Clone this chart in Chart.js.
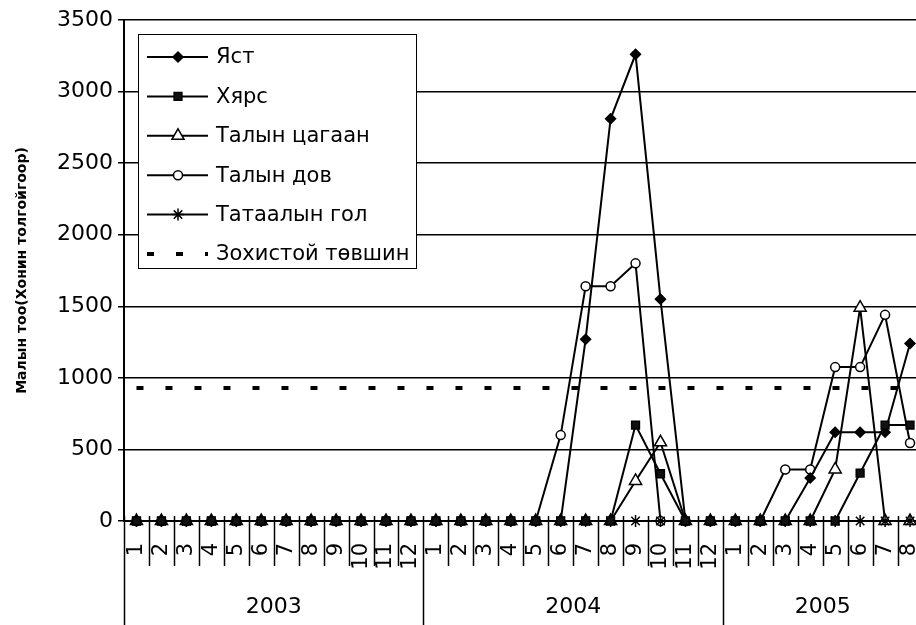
<!DOCTYPE html>
<html>
<head>
<meta charset="utf-8">
<script src="https://cdn.jsdelivr.net/npm/chart.js@4.4.1/dist/chart.umd.min.js"></script>
<style>
  body { margin: 0; background: #fff; }
  #wrap { width: 916px; height: 625px; overflow: hidden; position: relative; background: #fff; }
  canvas { display: block; }
</style>
</head>
<body>
<div id="wrap"><canvas id="chart" width="931" height="625"></canvas></div>
<script>
// Жил, тухайн жилд харагдах сарын тоо
var YEARS = ['2003', '2004', '2005'];
var MONTHS_IN_YEAR = [12, 12, 8];

// Цувааны утгууд (2003.1 ... 2005.8)
var YAST = [0,0,0,0,0,0,0,0,0,0,0,0,
            0,0,0,0,0,0,1270,2810,3260,1550,0,0,
            0,0,0,300,620,620,620,1240];
var KHYARS = [0,0,0,0,0,0,0,0,0,0,0,0,
              0,0,0,0,0,0,0,0,670,330,0,0,
              0,0,0,0,0,335,670,670];
var TALYN_TSAGAAN = [0,0,0,0,0,0,0,0,0,0,0,0,
                     0,0,0,0,0,0,0,0,280,550,0,0,
                     0,0,0,0,360,1490,0,0];
var TALYN_DOV = [0,0,0,0,0,0,0,0,0,0,0,0,
                 0,0,0,0,0,600,1640,1640,1800,0,0,0,
                 0,0,360,360,1075,1075,1440,545];
var TATAALYN_GOL = [0,0,0,0,0,0,0,0,0,0,0,0,
                    0,0,0,0,0,0,0,0,0,0,0,0,
                    0,0,0,0,0,0,0,0];
var NORM_LEVEL = [930,930,930,930,930,930,930,930,930,930,930,930,
                  930,930,930,930,930,930,930,930,930,930,930,930,
                  930,930,930,930,930,930,930,930];

var Y_TICKS = [0, 500, 1000, 1500, 2000, 2500, 3000, 3500];
var Y_TITLE = 'Малын тоо(Хонин толгойгоор)';

var FONT = 'DejaVu Sans';

// ангиллын шошго: сар бүр
var labels = [];
MONTHS_IN_YEAR.forEach(function(n) {
  for (var m = 1; m <= n; m++) labels.push(String(m));
});

// сар, жилийн хуваагч болон жилийн шошго
var axisDecor = {
  id: 'axisDecor',
  afterDraw: function(chart) {
    var ctx = chart.ctx;
    var xs = chart.scales.x;
    var area = chart.chartArea;
    var half = (xs.getPixelForValue(1) - xs.getPixelForValue(0)) / 2;
    var edges = [0];
    var acc = 0;
    MONTHS_IN_YEAR.forEach(function(n) { acc += n; edges.push(acc); });

    ctx.save();
    ctx.strokeStyle = '#000';
    ctx.lineWidth = 1.5;
    for (var i = 0; i <= labels.length; i++) {
      var px = Math.round(xs.getPixelForValue(i) - half) + 0.5;
      var isYear = edges.indexOf(i) >= 0;
      ctx.beginPath();
      ctx.moveTo(px, area.bottom - 5);
      ctx.lineTo(px, isYear ? chart.height : area.bottom + 45);
      ctx.stroke();
    }
    ctx.fillStyle = '#000';
    ctx.font = '22px "' + FONT + '"';
    ctx.textAlign = 'center';
    ctx.textBaseline = 'middle';
    YEARS.forEach(function(y, k) {
      var a = xs.getPixelForValue(edges[k]) - half;
      var b = xs.getPixelForValue(edges[k + 1] - 1) + half;
      ctx.fillText(y, (a + b) / 2, 607);
    });
    ctx.restore();
  }
};

// графикийн доторх тайлбар
var boxLegend = {
  id: 'boxLegend',
  afterDatasetsDraw: function(chart) {
    var ctx = chart.ctx;
    var x0 = 138, y0 = 34, w = 278, h = 234;
    ctx.save();
    ctx.fillStyle = '#fff';
    ctx.fillRect(x0, y0, w, h);
    ctx.strokeStyle = '#000';
    ctx.lineWidth = 1;
    ctx.strokeRect(x0 + 0.5, y0 + 0.5, w, h);
    chart.data.datasets.forEach(function(ds, i) {
      var cy = 57 + i * 39.4;
      ctx.strokeStyle = ds.borderColor;
      ctx.lineWidth = ds.borderWidth;
      ctx.setLineDash(ds.borderDash || []);
      ctx.beginPath();
      ctx.moveTo(147, cy);
      ctx.lineTo(208, cy);
      ctx.stroke();
      ctx.setLineDash([]);
      if (ds.pointRadius > 0) {
        ctx.fillStyle = ds.pointBackgroundColor;
        ctx.strokeStyle = ds.pointBorderColor;
        ctx.lineWidth = ds.pointBorderWidth;
        Chart.helpers.drawPoint(ctx, {
          pointStyle: ds.pointStyle, radius: ds.pointRadius,
          rotation: 0, borderWidth: ds.pointBorderWidth
        }, 178, cy);
      }
      ctx.fillStyle = '#000';
      ctx.font = '21px "' + FONT + '"';
      ctx.textAlign = 'left';
      ctx.textBaseline = 'middle';
      ctx.fillText(ds.label, 216, cy + 1);
    });
    ctx.restore();
  }
};

function series(label, data, style, radius, fill, order) {
  return {
    label: label,
    data: data,
    borderColor: '#000',
    borderWidth: 2,
    tension: 0,
    clip: false,
    pointStyle: style,
    pointRadius: radius,
    pointHoverRadius: radius,
    pointBackgroundColor: fill,
    pointBorderColor: '#000',
    pointBorderWidth: 1.5,
    order: order
  };
}

var datasets = [
  series('Яст', YAST, 'rectRot', 5, '#000', 3),
  series('Хярс', KHYARS, 'rect', 5.5, '#111', 1),
  series('Талын цагаан', TALYN_TSAGAAN, 'triangle', 7, '#fff', 4),
  series('Талын дов', TALYN_DOV, 'circle', 4.5, '#fff', 5),
  series('Татаалын гол', TATAALYN_GOL, 'star', 6, '#000', 2),
  {
    label: 'Зохистой төвшин',
    data: NORM_LEVEL,
    borderColor: '#000',
    borderWidth: 4,
    borderDash: [7, 22],
    pointRadius: 0,
    order: 6
  }
];

new Chart(document.getElementById('chart'), {
  type: 'line',
  data: { labels: labels, datasets: datasets },
  plugins: [axisDecor, boxLegend],
  options: {
    responsive: false,
    animation: false,
    events: [],
    layout: { padding: { top: 20, left: 0, right: 0, bottom: 0 } },
    plugins: { legend: { display: false }, tooltip: { enabled: false } },
    scales: {
      x: {
        type: 'category',
        offset: true,
        grid: { display: true, drawOnChartArea: false, drawTicks: false },
        border: { display: true, color: '#000', width: 2 },
        ticks: {
          autoSkip: false, minRotation: 90, maxRotation: 90,
          color: '#000', padding: 22,
          font: { family: FONT, size: 21 }
        },
        afterFit: function(s) { s.height = 104; s.paddingLeft = 0; s.paddingRight = 0; }
      },
      y: {
        min: 0, max: 3500,
        afterBuildTicks: function(s) { s.ticks = Y_TICKS.map(function(v) { return { value: v }; }); },
        grid: { color: '#000', lineWidth: 1.5, tickLength: 6 },
        border: { display: true, color: '#000', width: 2 },
        ticks: {
          color: '#000', padding: 5,
          font: { family: FONT, size: 22 },
          callback: function(v) { return String(v); }
        },
        title: {
          display: true, text: Y_TITLE, color: '#000',
          font: { family: FONT, size: 14, weight: 'bold' },
          padding: { top: 14, bottom: 0 }
        },
        afterFit: function(s) { s.width = 124; s.paddingTop = 0; s.paddingBottom = 0; }
      }
    }
  }
});
</script>
</body>
</html>
